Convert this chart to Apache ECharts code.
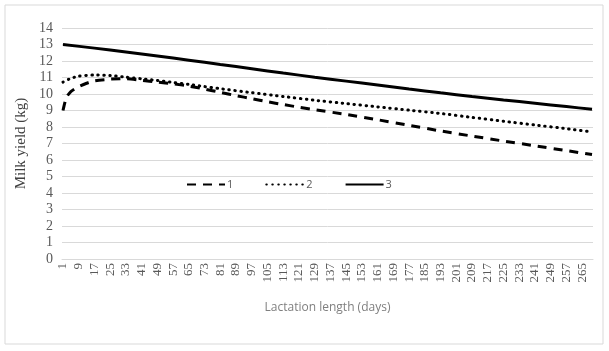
<!DOCTYPE html>
<html>
<head>
<meta charset="utf-8">
<script src="https://cdn.jsdelivr.net/npm/echarts@6/dist/echarts.min.js"></script>
<style>
  html, body { margin: 0; padding: 0; background: #fff; }
  #chart { width: 609px; height: 351px; }
</style>
</head>
<body>
<div id="chart"></div>
<script>
// lactation days on the x axis (1..270), labelled every 8 days
const days = [];
for (let d = 1; d <= 270; d++) days.push(String(d));

// curve 1 (dashed)
const days1 = [1, 2, 3, 5, 9, 13, 17, 25, 33, 41, 49, 57, 65, 73, 81, 89, 97, 105, 113, 121, 129, 145, 161, 177, 193, 209, 225, 241, 257, 270];
const yield1 = [9.0, 9.5, 9.85, 10.15, 10.45, 10.65, 10.8, 10.9, 10.92, 10.82, 10.72, 10.62, 10.48, 10.3, 10.1, 9.9, 9.72, 9.53, 9.36, 9.2, 9.05, 8.76, 8.44, 8.1, 7.76, 7.45, 7.15, 6.86, 6.57, 6.33];

// curve 2 (dotted)
const days2 = [1, 5, 9, 17, 25, 33, 41, 49, 57, 65, 73, 81, 97, 113, 129, 145, 161, 177, 193, 209, 225, 241, 257, 270];
const yield2 = [10.72, 10.95, 11.08, 11.15, 11.12, 11.02, 10.92, 10.82, 10.7, 10.58, 10.45, 10.32, 10.08, 9.85, 9.62, 9.42, 9.22, 9.02, 8.82, 8.58, 8.35, 8.12, 7.9, 7.7];

// curve 3 (solid)
const days3 = [1, 17, 33, 49, 65, 81, 97, 113, 129, 145, 161, 177, 193, 209, 225, 241, 257, 270];
const yield3 = [13.0, 12.78, 12.54, 12.3, 12.05, 11.79, 11.53, 11.27, 11.02, 10.78, 10.54, 10.3, 10.07, 9.85, 9.64, 9.44, 9.24, 9.07];

const pairs = (ds, vs) => ds.map((d, i) => [String(d), vs[i]]);

const chart = echarts.init(document.getElementById('chart'));
const serif = '"Liberation Serif", "DejaVu Serif", serif';
const sans = '"Open Sans", "Noto Sans", sans-serif';

const option = {
  animation: false,
  backgroundColor: '#fff',
  graphic: [{
    type: 'rect',
    shape: { x: 5, y: 5, width: 598, height: 339 },
    style: { fill: 'none', stroke: '#d9d9d9', lineWidth: 1 }
  }],
  grid: { left: 62, right: 16, top: 28, bottom: 92 },
  legend: {
    data: ['1', '2', '3'],
    left: 181,
    top: 174,
    itemWidth: 38,
    itemHeight: 12,
    itemGap: 32,
    itemStyle: { opacity: 0 },
    textStyle: { fontFamily: sans, fontSize: 11, color: '#595959', padding: [0, 0, 0, -3] }
  },
  xAxis: {
    type: 'category',
    data: days,
    name: 'Lactation length (days)',
    nameLocation: 'middle',
    nameGap: 43,
    nameTextStyle: { fontFamily: sans, fontSize: 12, color: '#7f7f7f' },
    axisLine: { lineStyle: { color: '#d9d9d9' } },
    axisTick: { show: false },
    axisLabel: {
      interval: 7,
      rotate: 90,
      margin: 4,
      fontFamily: serif,
      fontSize: 13,
      color: '#595959'
    }
  },
  yAxis: {
    type: 'value',
    min: 0,
    max: 14,
    interval: 1,
    name: 'Milk yield (kg)',
    nameLocation: 'middle',
    nameGap: 25,
    nameTextStyle: { fontFamily: serif, fontSize: 15, color: '#404040' },
    axisLine: { show: false },
    axisTick: { show: false },
    axisLabel: { fontFamily: serif, fontSize: 14, color: '#595959', margin: 9 },
    splitLine: { lineStyle: { color: '#d9d9d9' } }
  },
  series: [
    {
      name: '1', type: 'line', symbol: 'none', smooth: 0.2,
      data: pairs(days1, yield1),
      lineStyle: { color: '#000', width: 3, type: [9, 7] },
      itemStyle: { color: '#000' }
    },
    {
      name: '2', type: 'line', symbol: 'none', smooth: 0.2,
      data: pairs(days2, yield2),
      lineStyle: { color: '#000', width: 3, type: [0.5, 5.5], cap: 'round' },
      itemStyle: { color: '#000' }
    },
    {
      name: '3', type: 'line', symbol: 'none', smooth: 0.2,
      data: pairs(days3, yield3),
      lineStyle: { color: '#000', width: 3 },
      itemStyle: { color: '#000' }
    }
  ]
};
chart.setOption(option);
</script>
</body>
</html>
